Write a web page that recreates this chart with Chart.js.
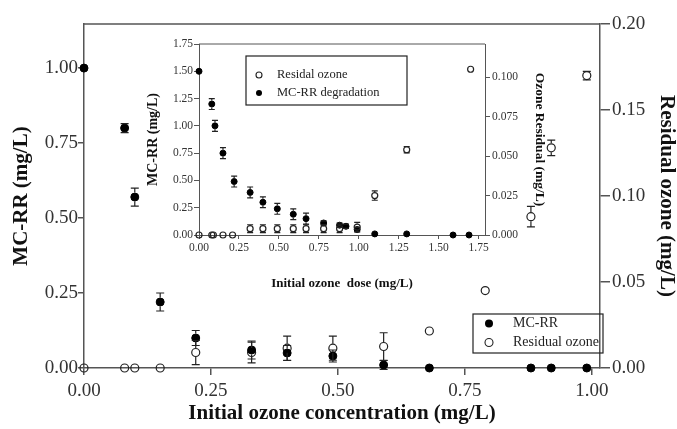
<!DOCTYPE html>
<html>
<head>
<meta charset="utf-8">
<script src="https://cdn.jsdelivr.net/npm/chart.js@4/dist/chart.umd.min.js"></script>
<style>
html, body { margin: 0; padding: 0; background: #fff; }
#wrap { position: relative; width: 677px; height: 429px; }
#mainChart { position: absolute; left: 0; top: 0; }
#insetChart { position: absolute; left: 140px; top: 30px; }
</style>
</head>
<body>
<div id="wrap">
<canvas id="mainChart" width="677" height="429"></canvas>
<canvas id="insetChart" width="420" height="270"></canvas>
</div>
<script>
// main plot: MC-RR left axis, residual ozone right axis
var mcrrDose = [0, 0.08, 0.10, 0.15, 0.22, 0.33, 0.40, 0.49, 0.59, 0.68, 0.88, 0.92, 0.99];
var mcrrConc = [1.00, 0.80, 0.57, 0.22, 0.10, 0.06, 0.05, 0.04, 0.01, 0, 0, 0, 0];
var mcrrErr  = [0, 0.015, 0.03, 0.03, 0.025, 0.03, 0.025, 0.02, 0.015, 0, 0, 0, 0];

var ozoneDose = [0, 0.08, 0.10, 0.15, 0.22, 0.33, 0.40, 0.49, 0.59, 0.68, 0.79, 0.88, 0.92, 0.99];
var ozoneResid = [0, 0, 0, 0, 0.009, 0.009, 0.0115, 0.0115, 0.0125, 0.0215, 0.045, 0.088, 0.128, 0.170];
var ozoneErr   = [0, 0, 0, 0, 0.007, 0.006, 0.007, 0.007, 0.008, 0, 0, 0.006, 0.0045, 0.0025];

var mainXTicks = [0, 0.25, 0.5, 0.75, 1.0];
var mainYTicks = [0, 0.25, 0.5, 0.75, 1.0];
var mainY2Ticks = [0, 0.05, 0.10, 0.15, 0.20];

// inset: degradation over the wider dose range
var degDose = [0, 0.08, 0.10, 0.15, 0.22, 0.32, 0.40, 0.49, 0.59, 0.67, 0.78, 0.88, 0.92, 0.99, 1.10, 1.30, 1.59, 1.69];
var degConc = [1.50, 1.20, 1.00, 0.75, 0.49, 0.39, 0.30, 0.24, 0.19, 0.15, 0.11, 0.09, 0.08, 0.05, 0.01, 0.01, 0, 0];
var degErr  = [0, 0.05, 0.05, 0.05, 0.05, 0.05, 0.05, 0.05, 0.05, 0.05, 0.02, 0.02, 0.02, 0.02, 0, 0, 0, 0];

var resDose = [0, 0.08, 0.09, 0.15, 0.21, 0.32, 0.40, 0.49, 0.59, 0.67, 0.78, 0.88, 0.99, 1.10, 1.30, 1.70];
var resConc = [0, 0, 0, 0, 0, 0.004, 0.004, 0.004, 0.004, 0.004, 0.004, 0.004, 0.005, 0.025, 0.054, 0.105];
var resErr  = [0, 0, 0, 0, 0, 0.0025, 0.0025, 0.0025, 0.0025, 0.0025, 0.0025, 0.0025, 0.003, 0.003, 0.002, 0];

var insetXTicks = [0, 0.25, 0.5, 0.75, 1.0, 1.25, 1.5, 1.75];
var insetYTicks = [0, 0.25, 0.5, 0.75, 1.0, 1.25, 1.5, 1.75];
var insetY2Ticks = [0, 0.025, 0.05, 0.075, 0.1];

var SERIF = "'Liberation Serif', 'Times New Roman', serif";
var AXIS = '#555';

function pairs(xs, ys) {
  return xs.map(function (x, i) { return { x: x, y: ys[i] }; });
}

function fixedTicks(list) {
  return function (scale) {
    scale.ticks = list.map(function (v) { return { value: v }; });
  };
}

function fmt(d) {
  return function (v) { return Number(v).toFixed(d); };
}

// vertical error bars with caps, kept outside the marker
function errorBarPlugin(cap) {
  return {
    id: 'errorBars',
    afterDatasetsDraw: function (chart) {
      var ctx = chart.ctx;
      chart.data.datasets.forEach(function (ds, i) {
        if (!ds.errorBars) return;
        var meta = chart.getDatasetMeta(i);
        var yScale = chart.scales[meta.yAxisID];
        ctx.save();
        ctx.strokeStyle = '#222';
        ctx.lineWidth = 1.2;
        meta.data.forEach(function (pt, j) {
          var e = ds.errorBars[j];
          if (!e) return;
          var v = ds.data[j].y;
          var top = yScale.getPixelForValue(v + e);
          var bot = yScale.getPixelForValue(v - e);
          var r = ds.pointRadius + 0.5;
          ctx.beginPath();
          if (pt.y - r > top) { ctx.moveTo(pt.x, top); ctx.lineTo(pt.x, pt.y - r); }
          if (pt.y + r < bot) { ctx.moveTo(pt.x, pt.y + r); ctx.lineTo(pt.x, bot); }
          ctx.moveTo(pt.x - cap, top); ctx.lineTo(pt.x + cap, top);
          ctx.moveTo(pt.x - cap, bot); ctx.lineTo(pt.x + cap, bot);
          ctx.stroke();
        });
        ctx.restore();
      });
    }
  };
}

// top border of the plot frame plus a boxed legend
function framePlugin(lw, legend) {
  return {
    id: 'frameLegend',
    afterDraw: function (chart) {
      var ctx = chart.ctx, a = chart.chartArea;
      ctx.save();
      ctx.strokeStyle = AXIS;
      ctx.lineWidth = lw;
      ctx.beginPath();
      ctx.moveTo(a.left, a.top);
      ctx.lineTo(a.right, a.top);
      ctx.stroke();

      ctx.strokeStyle = '#222';
      ctx.lineWidth = 1.2;
      ctx.strokeRect(legend.x, legend.y, legend.w, legend.h);
      ctx.font = legend.size + 'px ' + SERIF;
      ctx.textBaseline = 'middle';
      ctx.textAlign = 'left';
      ctx.fillStyle = '#222';
      legend.items.forEach(function (it, k) {
        var cy = legend.rows[k];
        ctx.beginPath();
        ctx.arc(legend.mx, cy, legend.r, 0, Math.PI * 2);
        if (it.filled) { ctx.fillStyle = '#000'; ctx.fill(); }
        else { ctx.lineWidth = 1.1; ctx.strokeStyle = '#222'; ctx.stroke(); }
        ctx.fillStyle = '#222';
        ctx.fillText(it.label, legend.tx, cy);
      });
      ctx.restore();
    }
  };
}

function axisOpts(o) {
  return {
    type: 'linear',
    position: o.position,
    min: o.min,
    max: o.max,
    afterBuildTicks: fixedTicks(o.ticks),
    afterFit: function (s) {
      if (o.position === 'bottom') s.height = o.size; else s.width = o.size;
    },
    ticks: {
      autoSkip: false,
      maxRotation: 0,
      padding: o.pad,
      color: '#333',
      font: { family: SERIF, size: o.font },
      callback: fmt(o.digits)
    },
    grid: { drawOnChartArea: false, drawTicks: true, tickLength: o.tick, color: AXIS, lineWidth: o.lw },
    border: { display: true, color: AXIS, width: o.lw },
    title: {
      display: true,
      text: o.title,
      color: '#111',
      font: { family: SERIF, size: o.titleSize, weight: 'bold', lineHeight: 1 },
      padding: o.titlePad
    }
  };
}

function marker(label, xs, ys, errs, axis, filled, r) {
  return {
    label: label,
    data: pairs(xs, ys),
    errorBars: errs,
    yAxisID: axis,
    clip: false,
    pointRadius: r,
    pointHoverRadius: r,
    pointBackgroundColor: filled ? '#000' : 'rgba(0,0,0,0)',
    pointBorderColor: filled ? '#000' : '#222',
    pointBorderWidth: filled ? 1 : 1.2
  };
}

new Chart(document.getElementById('mainChart'), {
  type: 'scatter',
  data: {
    datasets: [
      marker('MC-RR', mcrrDose, mcrrConc, mcrrErr, 'y', true, 4),
      marker('Residual ozone', ozoneDose, ozoneResid, ozoneErr, 'y2', false, 4)
    ]
  },
  options: {
    responsive: false,
    animation: false,
    events: [],
    layout: { padding: { top: 24, left: 0, right: 0, bottom: 0 } },
    plugins: { legend: { display: false }, tooltip: { enabled: false } },
    scales: {
      x: axisOpts({ position: 'bottom', min: 0, max: 1.016, ticks: mainXTicks, digits: 2, size: 61,
        font: 19, pad: 5, tick: 7, lw: 1.5, title: 'Initial ozone concentration (mg/L)', titleSize: 21,
        titlePad: { top: 0, bottom: 4.5 } }),
      y: axisOpts({ position: 'left', min: 0, max: 1.147, ticks: mainYTicks, digits: 2, size: 84,
        font: 19, pad: 0, tick: 6, lw: 1.5, title: 'MC-RR (mg/L)', titleSize: 21,
        titlePad: { top: 11.5, bottom: 0 } }),
      y2: axisOpts({ position: 'right', min: 0, max: 0.2, ticks: mainY2Ticks, digits: 2, size: 77,
        font: 19, pad: 2, tick: 10, lw: 1.5, title: 'Residual ozone (mg/L)', titleSize: 21,
        titlePad: { top: 0.5, bottom: 0 } })
    }
  },
  plugins: [
    errorBarPlugin(4),
    framePlugin(1.5, {
      x: 473, y: 314, w: 130, h: 39, size: 14, r: 4, mx: 489, tx: 513, rows: [323.5, 342.5],
      items: [{ label: 'MC-RR', filled: true }, { label: 'Residual ozone', filled: false }]
    })
  ]
});

new Chart(document.getElementById('insetChart'), {
  type: 'scatter',
  data: {
    datasets: [
      marker('Residal ozone', resDose, resConc, resErr, 'y2', false, 3),
      marker('MC-RR degradation', degDose, degConc, degErr, 'y', true, 3)
    ]
  },
  options: {
    responsive: false,
    animation: false,
    events: [],
    layout: { padding: { top: 14, left: 0, right: 0, bottom: 0 } },
    plugins: { legend: { display: false }, tooltip: { enabled: false } },
    scales: {
      x: axisOpts({ position: 'bottom', min: 0, max: 1.79, ticks: insetXTicks, digits: 2, size: 65,
        font: 11.5, pad: 2, tick: 4, lw: 1, title: 'Initial ozone  dose (mg/L)', titleSize: 13,
        titlePad: { top: 0, bottom: 9.5 } }),
      y: axisOpts({ position: 'left', min: 0, max: 1.75, ticks: insetYTicks, digits: 2, size: 59,
        font: 11.5, pad: 1, tick: 5, lw: 1, title: 'MC-RR (mg/L)', titleSize: 14,
        titlePad: { top: 6, bottom: 0 } }),
      y2: axisOpts({ position: 'right', min: 0, max: 0.121, ticks: insetY2Ticks, digits: 3, size: 75,
        font: 11.5, pad: 2, tick: 5, lw: 1, title: 'Ozone Residual (mg/L)', titleSize: 13.5,
        titlePad: { top: 14, bottom: 0 } })
    }
  },
  plugins: [
    errorBarPlugin(3),
    framePlugin(1, {
      x: 106, y: 26, w: 161, h: 49, size: 12.5, r: 3, mx: 119, tx: 137, rows: [45, 63],
      items: [{ label: 'Residal ozone', filled: false }, { label: 'MC-RR degradation', filled: true }]
    })
  ]
});
</script>
</body>
</html>
